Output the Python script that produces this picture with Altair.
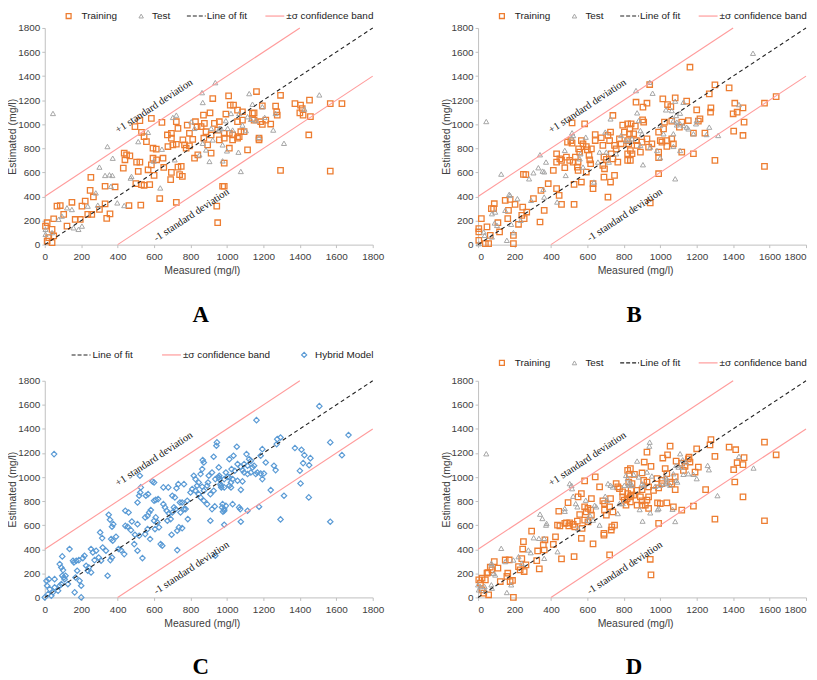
import altair as alt
import pandas as pd

# ---------------- data ----------------
A_TRAIN = [(13,30),(22,58),(49,72),(40,17),(13,182),(40,127),(4,154),(49,215),(67,320),(85,325),(104,251),(122,154),(149,352),(167,209),(195,209),(204,320),(222,361),(236,251),(258,251),(300,292),(253,559),(267,396),(249,451),(331,485),(331,339),(340,218),(358,256),(386,479),(431,636),(440,705),(449,746),(467,738),(436,760),(462,325),(500,507),(504,685),(522,685),(513,608),(531,498),(545,493),(527,328),(495,980),(522,1030),(531,933),(545,897),(558,856),(585,1049),(643,1016),(567,622),(585,663),(600,575),(576,498),(594,718),(614,705),(594,801),(612,793),(631,383),(649,718),(653,641),(676,815),(673,911),(695,925),(695,884),(695,600),(691,540),(703,829),(722,834),(722,1021),(731,966),(731,644),(749,650),(722,352),(740,581),(755,567),(758,870),(767,829),(776,801),(794,820),(782,993),(794,925),(812,875),(822,718),(840,746),(827,1021),(836,980),(858,980),(876,1007),(871,1076),(885,938),(913,911),(873,884),(894,829),(907,1095),(922,1214),(931,1007),(949,952),(958,1021),(913,760),(958,870),(944,320),(949,182),(976,485),(1009,1236),(1162,1272),(1294,1241),(1018,1159),(1036,1159),(994,1085),(1085,1104),(1058,1118),(1140,1090),(1149,1095),(1194,1153),(1267,1151),(1273,1104),(1276,1076),(1373,1172),(1404,1159),(1413,1131),(1400,1095),(1418,1076),(1453,1200),(1458,1063),(1567,1172),(1631,1172),(1058,1021),(1085,1035),(1140,1049),(1149,1035),(1185,1021),(1194,999),(1213,1035),(1240,1002),(985,925),(985,884),(1013,925),(1031,911),(1031,870),(1058,884),(1067,897),(1094,938),(1076,938),(1013,801),(1113,787),(1176,884),(1176,870),(985,677),(1449,911),(985,485),(1294,617),(1567,611)]
A_TEST = [(45,1090),(863,1263),(867,1181),(936,1346),(722,1076),(703,1057),(513,856),(567,933),(344,815),(373,718),(300,644),(331,575),(355,580),(371,575),(471,553),(476,567),(363,485),(280,430),(291,328),(398,347),(436,325),(634,471),(598,694),(643,793),(713,705),(149,292),(122,306),(76,210),(94,237),(4,127),(4,86),(40,100),(158,140),(185,127),(204,154),(236,320),(804,1021),(822,966),(913,966),(958,966),(867,842),(885,787),(922,870),(904,691),(849,746),(976,829),(1122,1255),(1507,1244),(1140,1167),(1194,1145),(1022,1090),(1067,1090),(994,1030),(1113,1063),(1131,1041),(1207,1057),(1267,1090),(1425,1126),(967,966),(958,952),(1004,966),(1031,952),(1085,993),(1104,947),(1158,1030),(1254,952),(1176,892),(1313,842),(1000,779),(1063,768),(976,696),(1076,608)]

B_TRAIN = [(249,584),(262,581),(345,451),(385,506),(363,285),(340,188),(304,382),(245,312),(240,243),(253,216),(222,169),(267,271),(203,335),(176,376),(167,285),(163,216),(149,368),(118,105),(109,182),(89,340),(85,299),(73,299),(49,147),(18,216),(4,133),(4,105),(4,36),(40,8),(58,8),(67,77),(194,8),(194,77),(413,617),(431,755),(431,686),(449,713),(458,700),(476,639),(485,727),(431,465),(445,409),(458,335),(527,335),(491,852),(509,865),(516,843),(503,700),(522,686),(534,727),(549,686),(558,769),(552,796),(567,865),(576,838),(516,1012),(585,1004),(545,644),(549,617),(527,500),(567,520),(594,815),(600,788),(609,741),(613,705),(622,796),(618,672),(594,603),(631,465),(631,506),(643,915),(643,865),(676,888),(685,824),(691,727),(704,708),(685,658),(694,630),(691,561),(713,395),(727,520),(749,575),(713,907),(727,935),(722,865),(740,1073),(749,824),(758,796),(731,755),(740,713),(767,686),(776,879),(785,838),(794,993),(803,935),(821,1004),(831,921),(821,865),(821,700),(821,755),(1163,1474),(942,1330),(1300,1327),(1378,1302),(1269,1253),(867,1183),(927,1175),(905,1142),(1014,1211),(1082,1219),(1040,1164),(1058,1147),(1145,1192),(1200,1120),(1278,1136),(1276,1100),(1409,1175),(1422,1100),(1400,1087),(1454,1136),(1460,1018),(1572,1175),(1636,1230),(1403,943),(1454,907),(1245,926),(1182,926),(1218,1045),(1209,1026),(1154,1031),(1118,1018),(1105,976),(1063,1026),(1023,1018),(903,1037),(909,1018),(840,1004),(863,984),(833,962),(854,921),(1018,962),(991,935),(1036,865),(1063,879),(1072,838),(1000,865),(1009,852),(927,879),(900,852),(869,865),(873,824),(827,838),(836,782),(845,755),(891,769),(936,810),(954,838),(1036,816),(991,769),(991,722),(1118,769),(1182,755),(1300,700),(1572,650),(991,589),(945,346),(836,700)]
B_TEST = [(45,1023),(127,586),(280,547),(340,747),(304,597),(331,639),(373,686),(354,611),(363,605),(358,459),(363,395),(291,368),(234,202),(216,382),(171,418),(176,409),(149,285),(182,169),(94,271),(91,180),(104,160),(76,257),(31,105),(36,77),(4,8),(76,64),(158,36),(194,100),(434,354),(481,575),(476,783),(516,929),(522,907),(513,888),(562,755),(558,713),(576,644),(591,893),(636,520),(667,769),(658,686),(704,769),(698,935),(727,1045),(758,755),(718,686),(785,907),(812,865),(1509,1590),(942,1349),(867,1280),(958,1258),(1082,1192),(1127,1183),(1031,1120),(1063,1114),(873,1095),(1109,1092),(1432,1164),(882,1031),(1087,1073),(1072,1031),(1091,1018),(1091,995),(1109,1004),(1000,990),(1127,990),(1145,976),(1154,962),(1200,1031),(1196,1004),(1182,921),(1269,976),(1254,915),(1318,907),(1072,921),(1018,921),(891,948),(900,921),(827,865),(845,879),(891,824),(945,810),(982,782),(1072,816),(1109,782),(1000,722),(905,664),(1082,547)]

C_HYBRID = [(51,1191),(9,138),(23,152),(13,97),(54,152),(0,0),(18,28),(36,14),(45,42),(27,69),(54,83),(73,55),(82,97),(91,111),(109,152),(96,180),(105,166),(82,277),(91,249),(100,227),(114,180),(96,341),(136,402),(127,111),(155,305),(160,291),(173,305),(187,310),(178,222),(169,166),(191,138),(200,97),(164,42),(200,0),(209,327),(218,346),(227,263),(242,249),(236,222),(254,208),(254,402),(264,374),(282,388),(273,310),(296,332),(309,305),(304,540),(315,493),(318,415),(336,388),(345,180),(360,310),(369,332),(364,485),(373,471),(391,504),(351,687),(358,645),(369,587),(376,609),(405,402),(418,393),(436,360),(442,595),(455,587),(442,720),(460,706),(478,631),(473,559),(495,521),(518,512),(509,609),(518,845),(527,914),(524,872),(509,789),(522,1011),(491,443),(509,388),(536,327),(551,526),(564,568),(551,665),(564,678),(573,706),(582,726),(555,845),(567,858),(578,485),(591,964),(600,955),(600,803),(609,811),(600,637),(609,665),(618,623),(627,582),(605,568),(622,817),(636,443),(645,429),(651,914),(678,914),(651,775),(660,748),(669,720),(682,698),(673,637),(691,651),(700,706),(709,748),(718,734),(696,521),(700,845),(714,831),(723,908),(727,554),(736,582),(754,576),(727,393),(742,789),(754,789),(745,706),(764,734),(773,734),(733,941),(764,941),(782,803),(785,651),(800,872),(809,900),(827,886),(818,1011),(827,983),(836,928),(845,955),(845,858),(855,831),(864,920),(873,886),(867,1141),(873,1121),(864,1066),(855,1025),(873,803),(891,775),(891,928),(896,955),(900,1011),(918,1038),(909,858),(927,886),(909,637),(918,734),(933,756),(927,1169),(936,983),(955,997),(945,1288),(942,1260),(955,1080),(964,941),(969,914),(973,748),(978,712),(936,346),(1162,1473),(1507,1589),(1276,1315),(1294,1329),(1273,1274),(1373,1241),(1409,1227),(1425,1182),(1458,1157),(1567,1288),(1667,1349),(1631,1182),(1418,1116),(1451,1099),(1400,1052),(1404,947),(1054,1252),(1107,1191),(1013,1149),(1036,1177),(1194,1232),(1185,1177),(1213,1121),(1258,1094),(1267,1058),(1122,1149),(1131,1135),(1058,1108),(1076,1085),(1094,1108),(1113,1094),(1140,1080),(1149,1094),(1025,1066),(1043,1052),(994,1038),(1004,1002),(1085,1058),(1094,1038),(1113,1025),(1131,1038),(1158,1025),(1167,1038),(1185,1030),(1203,1030),(1194,983),(958,1011),(958,983),(985,983),(1013,997),(1031,983),(1022,955),(1058,969),(1085,964),(967,928),(985,914),(1013,928),(1022,914),(1076,894),(1240,892),(1313,845),(1449,831),(976,775),(994,761),(1031,775),(985,734),(985,720),(1067,748),(1073,734),(1176,753),(1113,720),(985,604),(1076,629),(1294,648),(1567,629)]

D_TRAIN = [(4,146),(13,119),(22,160),(40,146),(31,36),(58,22),(22,63),(49,201),(54,207),(67,251),(89,298),(76,229),(109,243),(122,132),(149,311),(171,311),(158,174),(163,201),(176,132),(189,141),(194,0),(222,256),(231,229),(253,215),(240,322),(245,402),(249,463),(263,270),(294,551),(322,306),(336,237),(327,386),(358,436),(363,394),(367,479),(413,441),(425,504),(436,601),(449,595),(443,716),(458,320),(476,615),(485,620),(494,788),(498,595),(503,620),(522,606),(531,587),(527,339),(545,634),(549,835),(567,863),(558,689),(567,491),(571,573),(585,968),(594,711),(603,739),(585,753),(585,642),(603,628),(618,725),(622,684),(622,821),(631,445),(643,1001),(667,918),(685,802),(694,780),(694,725),(704,684),(691,532),(691,518),(722,353),(727,821),(722,753),(740,711),(749,601),(734,587),(731,560),(758,946),(767,918),(776,904),(794,877),(794,835),(803,808),(812,766),(821,1056),(831,1023),(840,890),(840,849),(821,863),(1278,1312),(1273,1268),(1572,1290),(1378,1249),(1414,1227),(1054,1257),(927,1207),(1040,1185),(1014,1158),(1158,1166),(1154,1152),(1200,1235),(1300,1172),(1460,1161),(1454,1103),(1422,1119),(1636,1185),(1403,1061),(1087,1133),(1118,1116),(1163,1125),(912,1125),(949,1089),(836,1070),(858,1023),(900,1034),(1027,1070),(1036,1028),(1136,1089),(1127,1056),(1209,1083),(1191,1042),(982,987),(1009,973),(1054,959),(1082,1001),(909,973),(927,959),(827,959),(845,945),(936,918),(963,890),(873,890),(900,896),(836,835),(854,849),(1009,945),(991,910),(1063,943),(1082,896),(818,821),(836,794),(891,835),(900,802),(927,808),(936,835),(873,766),(900,766),(918,766),(936,739),(985,786),(1000,780),(1036,786),(1072,753),(1118,725),(1182,758),(1249,896),(1409,959),(1454,835),(1300,651),(1572,637),(991,615),(945,317),(949,187)]
D_TEST = [(45,1194),(127,408),(158,41),(182,105),(149,298),(194,311),(73,284),(76,270),(85,201),(94,187),(73,105),(76,77),(0,105),(4,63),(13,91),(36,91),(40,58),(222,339),(240,284),(276,394),(289,372),(305,496),(334,491),(340,692),(353,656),(363,491),(363,325),(373,601),(376,615),(436,380),(476,716),(476,739),(503,946),(513,932),(516,904),(522,841),(536,780),(545,753),(549,573),(591,808),(603,642),(613,684),(631,642),(640,766),(649,753),(667,601),(698,841),(709,808),(713,946),(727,932),(740,918),(767,697),(776,780),(794,780),(812,1014),(821,987),(803,932),(831,932),(840,946),(942,1290),(940,1257),(1109,1194),(873,1133),(1123,1144),(1142,1125),(1087,1097),(1100,1083),(1118,1083),(1260,1097),(1267,1061),(1432,1172),(1512,1075),(854,1023),(882,1001),(927,1042),(954,1009),(1027,1001),(1036,987),(1072,1028),(1127,1023),(1154,1028),(1182,1023),(1200,987),(900,945),(909,932),(827,945),(845,932),(972,923),(1000,932),(1027,945),(1036,950),(1054,932),(1087,973),(1094,959),(1314,846),(887,730),(945,703),(985,730),(991,739),(1067,733),(903,634),(1082,631)]

# reference lines: line of fit y = x and the +/- sigma band (sigma = 400 mg/l)
FIT_X = [0, 1800]
FIT_Y = [0, 1800]
UPPER_X = [0, 1400]
UPPER_Y = [400, 1800]
LOWER_X = [400, 1800]
LOWER_Y = [0, 1400]
ANNOT = [("+1 standard deviation", 600, 1150), ("-1 standard deviation", 805, 245)]
TICKS = list(range(0, 1801, 200))

# ---------------- styles ----------------
ORANGE = "#ED7D31"
GRAY = "#A5A5A5"
BLUE = "#5B9BD5"
PINK = "#FF9B9B"
SANS = "Liberation Sans"
SERIF = "Liberation Serif"
TXT = "#404040"
W, H = 330, 218
ANGLE = 326.55

def pts(lst):
    return pd.DataFrame(lst, columns=["x", "y"])

def panel(train, test, hybrid, letter, legend, ly, flush):
    xs = alt.Scale(domain=[0, 1800], nice=False, zero=False)
    ys = alt.Scale(domain=[0, 1800], nice=False, zero=False)
    common = dict(values=TICKS, grid=False, domainColor="#BFBFBF", tickColor="#BFBFBF", tickSize=3,
                  labelFont=SANS, labelFontSize=10, labelColor=TXT, titleFont=SANS, titleFontSize=10.5,
                  titleFontWeight="normal", titleColor=TXT, format="d", labelOverlap=False)
    xa = alt.Axis(title="Measured (mg/l)", labelPadding=4, titlePadding=4, labelFlush=flush,
                  titleX=158, **common)
    ya = alt.Axis(title="Estimated (mg/l)", labelPadding=2, titlePadding=3, labelFlush=False,
                  minExtent=24, maxExtent=24, **common)

    def enc():
        return dict(x=alt.X("x:Q", scale=xs, axis=xa), y=alt.Y("y:Q", scale=ys, axis=ya))

    layers = []
    if train is not None:
        layers.append(alt.Chart(pts(train)).mark_point(shape="square", filled=False, color=ORANGE,
                      size=30, strokeWidth=1.3, opacity=1).encode(**enc()))
    if test is not None:
        layers.append(alt.Chart(pts(test)).mark_point(shape="triangle-up", filled=False, color=GRAY,
                      size=26, strokeWidth=1.0, opacity=1).encode(**enc()))
    if hybrid is not None:
        layers.append(alt.Chart(pts(hybrid)).mark_point(shape="diamond", filled=False, color=BLUE,
                      size=30, strokeWidth=1.2, opacity=1).encode(**enc()))
    fit = pd.DataFrame({"x": FIT_X, "y": FIT_Y})
    layers.append(alt.Chart(fit).mark_line(color="#222222", strokeDash=[4, 3], strokeWidth=1.1)
                  .encode(**enc()))
    band = pd.concat([pd.DataFrame({"x": UPPER_X, "y": UPPER_Y, "b": "up"}),
                      pd.DataFrame({"x": LOWER_X, "y": LOWER_Y, "b": "lo"})])
    layers.append(alt.Chart(band).mark_line(color=PINK, strokeWidth=1.1)
                  .encode(detail="b:N", **enc()))
    ann = pd.DataFrame(ANNOT, columns=["t", "x", "y"])
    layers.append(alt.Chart(ann).mark_text(angle=ANGLE, font=SERIF, fontSize=10.5, color="#111111",
                  baseline="middle", align="center").encode(text="t:N", **enc()))
    one = pd.DataFrame({"k": [0]})
    for kind, x0, tx, label in legend:
        if kind == "square":
            layers.append(alt.Chart(one).mark_point(shape="square", filled=False, color=ORANGE, size=24,
                          strokeWidth=1.3, opacity=1).encode(x=alt.value(x0), y=alt.value(ly)))
        elif kind == "triangle":
            layers.append(alt.Chart(one).mark_point(shape="triangle-up", filled=False, color=GRAY, size=20,
                          strokeWidth=1.0, opacity=1).encode(x=alt.value(x0), y=alt.value(ly)))
        elif kind == "diamond":
            layers.append(alt.Chart(one).mark_point(shape="diamond", filled=False, color=BLUE, size=26,
                          strokeWidth=1.2, opacity=1).encode(x=alt.value(x0), y=alt.value(ly)))
        elif kind == "dash":
            layers.append(alt.Chart(one).mark_rule(color="#222222", strokeDash=[4, 2], strokeWidth=1.1)
                          .encode(x=alt.value(x0), x2=alt.value(x0 + 19), y=alt.value(ly)))
        elif kind == "pink":
            layers.append(alt.Chart(one).mark_rule(color=PINK, strokeWidth=1.2)
                          .encode(x=alt.value(x0), x2=alt.value(x0 + 19), y=alt.value(ly)))
        layers.append(alt.Chart(one).mark_text(align="left", baseline="middle", font=SANS, fontSize=10,
                      color="#222222").encode(x=alt.value(tx), y=alt.value(ly), text=alt.value(label)))
    title = alt.TitleParams(text=letter, orient="bottom", font=SERIF, fontSize=23, fontWeight="bold",
                            color="black", offset=28, dx=-8, anchor="middle")
    return alt.layer(*layers).properties(width=W, height=H, title=title)

LEG_TRAIN = [("square", 24, 37, "Training"), ("triangle", 97, 108, "Test"),
             ("dash", 143, 163, "Line of fit"), ("pink", 222, 243, "±σ confidence band")]
LEG_HYB = [("dash", 27, 48, "Line of fit"), ("pink", 118, 139, "±σ confidence band"),
           ("diamond", 261, 272, "Hybrid Model")]

pA = panel(A_TRAIN, A_TEST, None, "A", LEG_TRAIN, -12, False)
pB = panel(B_TRAIN, B_TEST, None, "B", LEG_TRAIN, -12, True)
pC = panel(None, None, C_HYBRID, "C", LEG_HYB, -26, False)
pD = panel(D_TRAIN, D_TEST, None, "D", LEG_TRAIN, -18, True)

chart = alt.concat(pA, pB, pC, pD, columns=2, spacing={"row": 137, "column": 106},
                   bounds="flush").properties(padding=0).configure_view(stroke=None)

chart.save("out.html", embed_options={"renderer": "svg", "actions": False})
